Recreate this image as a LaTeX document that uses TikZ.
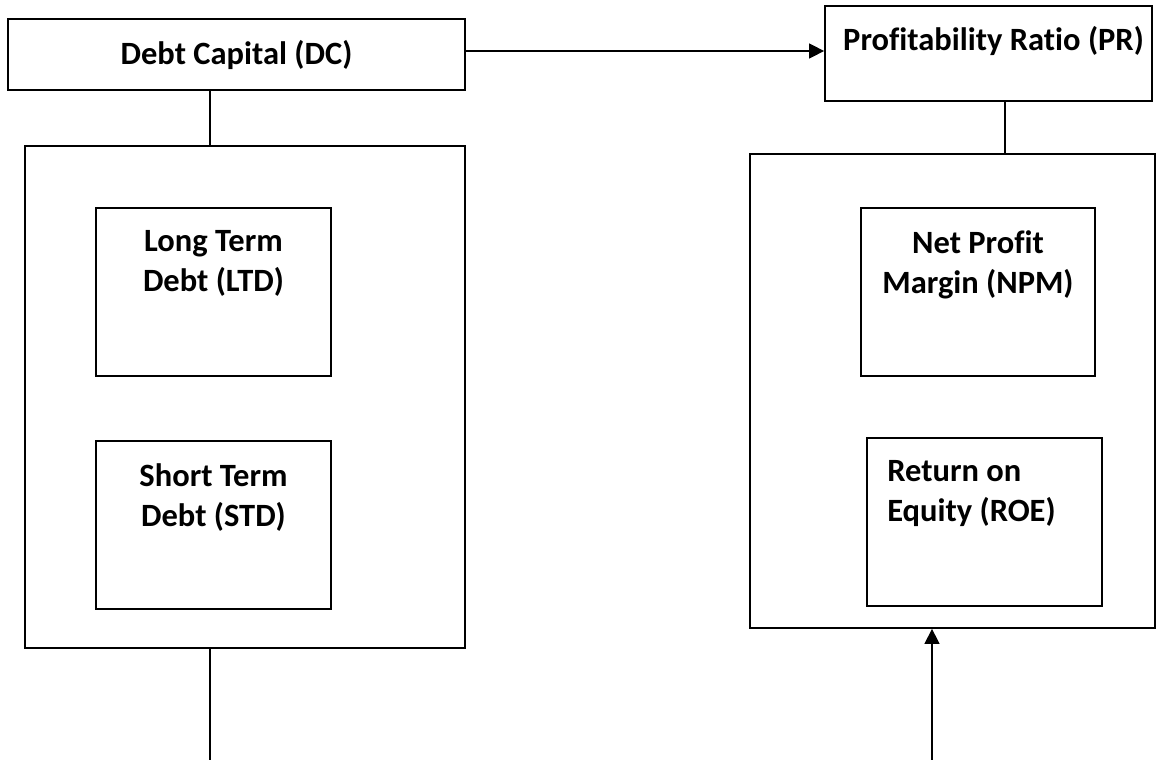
\documentclass[tikz,border=0pt]{standalone}
\usepackage{fontspec}
\setmainfont{Carlito}[Ligatures=NoCommon]
\usetikzlibrary{%
  arrows.meta,% Triangle tips
  positioning% wg. " of "
}

\begin{document}
\begin{tikzpicture}[x=1pt, y=-1pt]
  \tikzset{
    BoxStyle/.style  = {draw, black, line width=1.8pt, inner sep=0pt},
    TextStyle/.style = {font=\fontsize{32.5}{40}\selectfont\bfseries, inner sep=0pt, align=center},
    LinkStyle/.style = {black, line width=1.5pt},
    ArrowStyle/.style = {LinkStyle, -{Triangle[length=15pt, width=15pt]}}
  }
  \useasboundingbox (0,0) rectangle (1159,760);

  % debt side
  \node[BoxStyle, TextStyle, minimum width=457pt, minimum height=71pt] (dc) at (236.5, 54.5) {Debt Capital (DC)};
  \node[BoxStyle, minimum width=440pt, minimum height=502pt] (debtbox) at (245, 397) {};
  \node[BoxStyle, minimum width=235pt, minimum height=168pt] (ltd) at (213.5, 292) {};
  \node[BoxStyle, minimum width=235pt, minimum height=168pt] (std) at (213.5, 525) {};
  \node[TextStyle, below=23pt of ltd.north] (ltdtext) {Long Term\\Debt (LTD)};
  \node[TextStyle, below=23pt of std.north] (stdtext) {Short Term\\Debt (STD)};

  % ratio side
  \node[BoxStyle, minimum width=327pt, minimum height=95pt] (pr) at (988.5, 53.5) {};
  \node[TextStyle, xshift=5pt, below=21pt of pr.north] (prtext) {Profitability Ratio (PR)};
  \node[BoxStyle, minimum width=405pt, minimum height=474pt] (ratiobox) at (952.5, 391) {};
  \node[BoxStyle, minimum width=234pt, minimum height=168pt] (npm) at (978, 292) {};
  \node[BoxStyle, minimum width=235pt, minimum height=168pt] (roe) at (984.5, 522) {};
  \node[TextStyle, below=23pt of npm.north] (npmtext) {Net Profit\\Margin (NPM)};
  \node[TextStyle, align=left, below right=23pt and 21pt of roe.north west] (roetext) {Return on\\Equity (ROE)};

  % free ends and joints
  \coordinate (dcfoot)  at (210, 760);
  \coordinate (roefoot) at (932, 760);
  \coordinate (prjoin)  at (1005, 0);
  \coordinate (dcout)   at (0, 51);

  % links
  \draw[LinkStyle] (dc.south -| dcfoot) -- (debtbox.north -| dcfoot);
  \draw[LinkStyle] (debtbox.south -| dcfoot) -- (dcfoot);
  \draw[LinkStyle] (pr.south -| prjoin) -- (ratiobox.north -| prjoin);

  % arrows
  \draw[ArrowStyle] (dc.east |- dcout) -- (pr.west |- dcout);
  \draw[ArrowStyle] (roefoot) -- (ratiobox.south -| roefoot);
\end{tikzpicture}
\end{document}
